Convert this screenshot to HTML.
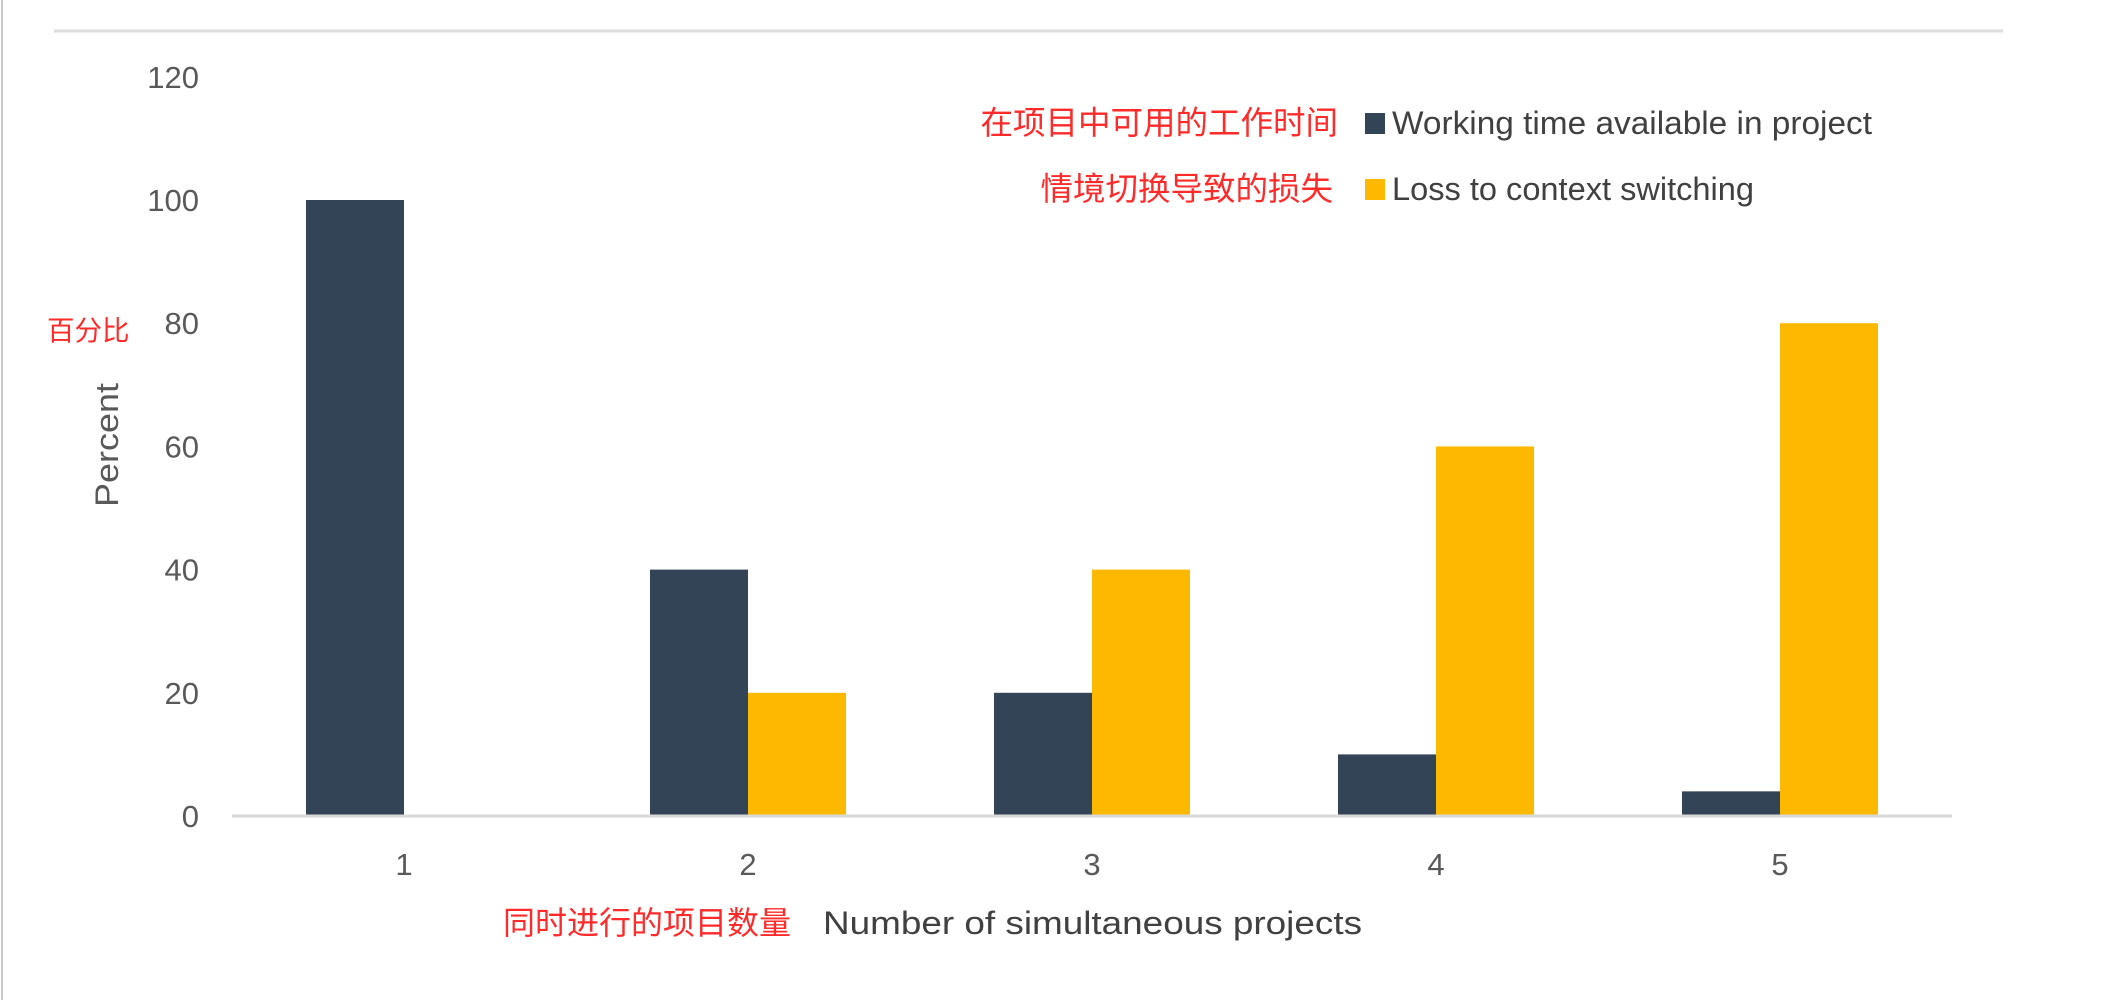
<!DOCTYPE html>
<html><head><meta charset="utf-8"><style>
html,body{margin:0;padding:0;background:#fff;width:2115px;height:1000px;overflow:hidden}
svg{display:block}
text{font-family:"Liberation Sans","Noto Sans CJK SC",sans-serif}
</style></head><body>
<svg id="chart" width="2115" height="1000" viewBox="0 0 2115 1000" xmlns="http://www.w3.org/2000/svg">
<line x1="2" y1="0" x2="2" y2="1000" stroke="#c8c8c8" stroke-width="2"/>
<line x1="54" y1="31" x2="2003" y2="31" stroke="#dcdcdc" stroke-width="3"/>
<g id="bars"></g>
<g id="yticks"></g>
<g id="xticks"></g>
<line x1="232" y1="816" x2="1952" y2="816" stroke="#d9d9d9" stroke-width="3"/>
<text transform="translate(118,445) rotate(-90)" text-anchor="middle" font-size="32" fill="#595959" textLength="124" lengthAdjust="spacingAndGlyphs">Percent</text>
<text x="47" y="340" font-size="27.5" fill="#ff2a2a">百分比</text>
<text x="503" y="934" font-size="32" fill="#ff2a2a">同时进行的项目数量</text>
<text x="823" y="934" font-size="32" fill="#404040" textLength="539" lengthAdjust="spacingAndGlyphs">Number of simultaneous projects</text>
<g>
<text x="1338" y="134" text-anchor="end" font-size="32.5" fill="#ff2a2a">在项目中可用的工作时间</text>
<rect x="1365" y="113" width="20" height="21" fill="#344457"/>
<text x="1392" y="134" font-size="32" fill="#404040" textLength="480" lengthAdjust="spacingAndGlyphs">Working time available in project</text>
<text x="1333" y="200" text-anchor="end" font-size="32.5" fill="#ff2a2a">情境切换导致的损失</text>
<rect x="1365" y="179" width="20" height="21" fill="#fdb900"/>
<text x="1392" y="200" font-size="32" fill="#404040" textLength="362" lengthAdjust="spacingAndGlyphs">Loss to context switching</text>
</g>
</svg>
<script>
const categories = ["1","2","3","4","5"];
const workingValues = [100,40,20,10,4];
const lossValues = [0,20,40,60,80];
const yTickValues = [0,20,40,60,80,100,120];

const NS = "http://www.w3.org/2000/svg";
const plotLeft = 232, plotRight = 1952, baseY = 816, y100 = 200;
const band = (plotRight - plotLeft) / categories.length;
const barW = 98;
function yScale(v){ return baseY - v * (baseY - y100) / 100; }
function xCenter(i){ return plotLeft + band * (i + 0.5); }

const bars = document.getElementById('bars');
categories.forEach((c, i) => {
  const cx = xCenter(i);
  const w = workingValues[i];
  const r1 = document.createElementNS(NS, 'rect');
  r1.setAttribute('x', cx - barW);
  r1.setAttribute('y', yScale(w));
  r1.setAttribute('width', barW);
  r1.setAttribute('height', baseY - yScale(w));
  r1.setAttribute('fill', '#344457');
  
  
  bars.appendChild(r1);
  const l = lossValues[i];
  const r2 = document.createElementNS(NS, 'rect');
  r2.setAttribute('x', cx);
  r2.setAttribute('y', yScale(l));
  r2.setAttribute('width', barW);
  r2.setAttribute('height', baseY - yScale(l));
  r2.setAttribute('fill', '#fdb900');
  
  
  bars.appendChild(r2);
  const t = document.createElementNS(NS, 'text');
  t.setAttribute('x', cx);
  t.setAttribute('y', 875);
  t.setAttribute('text-anchor', 'middle');
  t.setAttribute('font-size', '31');
  t.setAttribute('fill', '#595959');
  t.textContent = c;
  
  
  document.getElementById('xticks').appendChild(t);
});
yTickValues.forEach(v => {
  const t = document.createElementNS(NS, 'text');
  t.setAttribute('x', 199);
  t.setAttribute('y', yScale(v) + 11);
  t.setAttribute('text-anchor', 'end');
  t.setAttribute('font-size', '31');
  t.setAttribute('fill', '#595959');
  t.textContent = String(v);
  
  
  document.getElementById('yticks').appendChild(t);
});
</script>
</body></html>
